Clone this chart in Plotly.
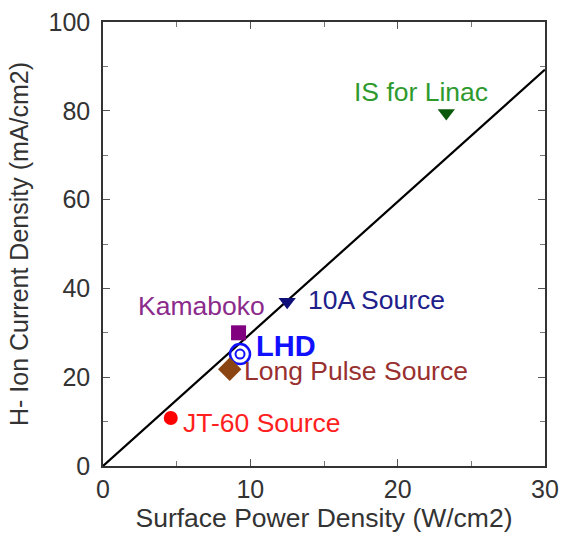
import plotly.graph_objects as go

# Data
names = ["JT-60 Source", "Kamaboko", "LHD", "Long Pulse Source", "10A Source", "IS for Linac"]
power = [4.6, 9.2, 9.3, 8.6, 12.5, 23.3]
current = [10.8, 30.0, 25.2, 21.8, 37.0, 79.5]
symbols = ["circle", "square", "circle-open", "diamond", "triangle-down", "triangle-down"]
marker_colors = ["#ff0000", "#800080", "#1010ff", "#8b4513", "#10107a", "#0b5a0b"]
label_colors = ["#ff2020", "#8b2b8b", "#1010ff", "#993030", "#20208a", "#2e9a2e"]
label_x = [5.36, 2.3, 10.3, 9.5, 13.85, 17.0]
label_y = [9.7, 36.0, 27.0, 21.4, 37.4, 84.2]
fit_x = [0, 30]
fit_y = [0, 89.3]

FONT = "Liberation Sans, Arial, sans-serif"

fig = go.Figure()
fig.add_trace(go.Scatter(x=fit_x, y=fit_y, mode="lines",
                         line=dict(color="black", width=2.2), showlegend=False))
for i, n in enumerate(names):
    size = {"circle": 14, "square": 15, "circle-open": 20, "diamond": 18, "triangle-down": 15}[symbols[i]]
    fig.add_trace(go.Scatter(x=[power[i]], y=[current[i]], mode="markers",
                             marker=dict(symbol=symbols[i], size=size, color=marker_colors[i],
                                         line=dict(width=2.5 if symbols[i] == "circle-open" else 0,
                                                   color=marker_colors[i])),
                             showlegend=False))
    if symbols[i] == "circle-open":
        fig.add_trace(go.Scatter(x=[power[i]], y=[current[i]], mode="markers",
                                 marker=dict(symbol="circle-open", size=9, color=marker_colors[i],
                                             line=dict(width=2, color=marker_colors[i])),
                                 showlegend=False))
    fig.add_annotation(x=label_x[i], y=label_y[i], text=("<b>%s</b>" % n) if n == "LHD" else n,
                       xanchor="left", yanchor="middle", showarrow=False, borderpad=0,
                       font=dict(size=29 if n == "LHD" else 26.5, color=label_colors[i], family=FONT))

axis_common = dict(showgrid=False, zeroline=False, showline=True, linecolor="#333333", linewidth=1.5,
                   mirror="ticks", ticks="inside", ticklen=7, tickcolor="#555555", automargin=False,
                   tickfont=dict(size=25, color="#333333", family=FONT),
                   minor=dict(ticks="inside", ticklen=5, tickcolor="#777777"))
fig.update_xaxes(range=[0, 30], tickvals=[0, 10, 20, 30], minor_dtick=5,
                 title=dict(text="Surface Power Density (W/cm2)", standoff=6,
                            font=dict(size=26.5, color="#333333", family=FONT)),
                 **axis_common)
fig.update_yaxes(range=[0, 100], tickvals=[0, 20, 40, 60, 80, 100], minor_dtick=10,
                 ticklabelstandoff=6,
                 title=dict(text="H- Ion Current Density (mA/cm2)", standoff=13,
                            font=dict(size=25, color="#333333", family=FONT)),
                 **axis_common)
fig.update_layout(width=561, height=543, margin=dict(l=103, r=16, t=22, b=77),
                  plot_bgcolor="white", paper_bgcolor="white")
fig.write_html("out.html", config={"displayModeBar": False},
               post_script="document.body.style.margin='0';document.body.style.overflow='hidden';")
